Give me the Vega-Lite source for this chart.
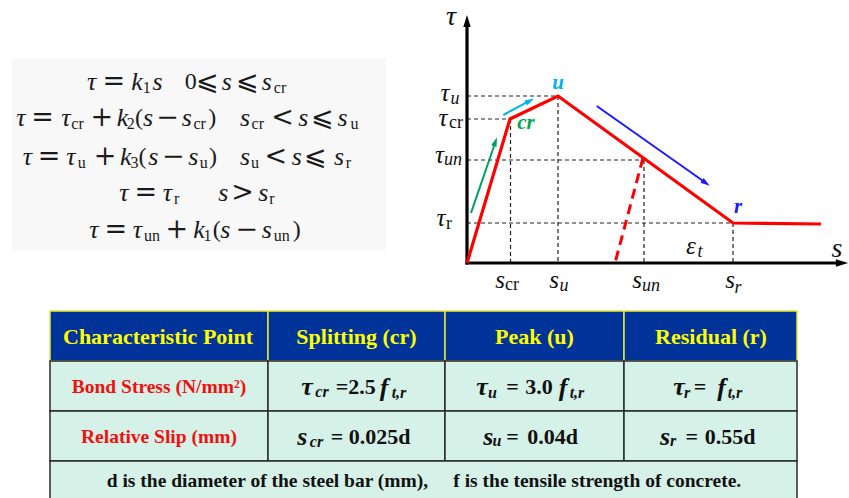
{
  "$schema": "https://vega.github.io/schema/vega-lite/v6.json",
  "width": 849,
  "height": 498,
  "autosize": {"type": "fit", "contains": "padding"},
  "padding": 0,
  "background": "white",
  "config": {"view": {"stroke": null}},
  "datasets": {
    "box": [{"x": 12, "y": 58, "x2": 386, "y2": 250}],
    "eqVar": [
      {"t": "τ", "x": 91.7, "y": 82}, {"t": "k", "x": 137, "y": 82}, {"t": "s", "x": 157.5, "y": 82}, {"t": "s", "x": 226.7, "y": 82}, {"t": "s", "x": 266.7, "y": 82},
      {"t": "τ", "x": 20.8, "y": 118}, {"t": "τ", "x": 65.8, "y": 118}, {"t": "k", "x": 122.5, "y": 118}, {"t": "s", "x": 148, "y": 118}, {"t": "s", "x": 186.7, "y": 118}, {"t": "s", "x": 245, "y": 118}, {"t": "s", "x": 303.3, "y": 118}, {"t": "s", "x": 342.5, "y": 118},
      {"t": "τ", "x": 27.5, "y": 157}, {"t": "τ", "x": 70.8, "y": 157}, {"t": "k", "x": 125.8, "y": 157}, {"t": "s", "x": 153.3, "y": 157}, {"t": "s", "x": 193.3, "y": 157}, {"t": "s", "x": 245, "y": 157}, {"t": "s", "x": 296.7, "y": 157}, {"t": "s", "x": 339, "y": 157},
      {"t": "τ", "x": 124, "y": 193}, {"t": "τ", "x": 167.5, "y": 193}, {"t": "s", "x": 223.3, "y": 193}, {"t": "s", "x": 263.3, "y": 193},
      {"t": "τ", "x": 94, "y": 230}, {"t": "τ", "x": 137.5, "y": 230}, {"t": "k", "x": 199, "y": 230}, {"t": "s", "x": 225.3, "y": 230}, {"t": "s", "x": 266.7, "y": 230}
    ],
    "eqNum": [
      {"t": "0", "x": 190.8, "y": 82},
      {"t": "(", "x": 139, "y": 118}, {"t": ")", "x": 212.2, "y": 118},
      {"t": "(", "x": 142.5, "y": 157}, {"t": ")", "x": 213, "y": 157},
      {"t": "(", "x": 216.7, "y": 230}, {"t": ")", "x": 296.7, "y": 230}
    ],
    "eqOp": [
      {"t": "=", "x": 113.7, "y": 82}, {"t": "⩽", "x": 207.5, "y": 82}, {"t": "⩽", "x": 247.5, "y": 82},
      {"t": "=", "x": 42.5, "y": 118}, {"t": "+", "x": 101.7, "y": 118}, {"t": "−", "x": 167.5, "y": 118}, {"t": "<", "x": 282.5, "y": 118}, {"t": "⩽", "x": 322.5, "y": 118},
      {"t": "=", "x": 49, "y": 157}, {"t": "+", "x": 105, "y": 157}, {"t": "−", "x": 173.3, "y": 157}, {"t": "<", "x": 275.8, "y": 157}, {"t": "⩽", "x": 315.8, "y": 157},
      {"t": "=", "x": 145.8, "y": 193}, {"t": ">", "x": 242.5, "y": 193},
      {"t": "=", "x": 115.8, "y": 230}, {"t": "+", "x": 176.7, "y": 230}, {"t": "−", "x": 246.7, "y": 230}
    ],
    "eqSub": [
      {"t": "1", "x": 146.7, "y": 88}, {"t": "cr", "x": 280, "y": 88},
      {"t": "cr", "x": 77.5, "y": 124}, {"t": "2", "x": 130.8, "y": 124}, {"t": "cr", "x": 199.7, "y": 124}, {"t": "cr", "x": 257.8, "y": 124}, {"t": "u", "x": 354.5, "y": 124},
      {"t": "u", "x": 81.7, "y": 163}, {"t": "3", "x": 134.5, "y": 163}, {"t": "u", "x": 203.8, "y": 163}, {"t": "u", "x": 255, "y": 163}, {"t": "r", "x": 348.5, "y": 163},
      {"t": "r", "x": 176.7, "y": 199}, {"t": "r", "x": 272, "y": 199},
      {"t": "un", "x": 152, "y": 236}, {"t": "1", "x": 207.5, "y": 236}, {"t": "un", "x": 281.7, "y": 236}
    ],
    "blockArrow": [
      {"x": 386, "y": 152, "y2": 168, "o": 1},
      {"x": 407, "y": 152, "y2": 168, "o": 2},
      {"x": 407, "y": 146, "y2": 175, "o": 3},
      {"x": 424, "y": 160.5, "y2": 160.5, "o": 4}
    ],
    "axes": [
      {"x": 467, "y": 264.5, "x2": 467, "y2": 24},
      {"x": 465.5, "y": 263, "x2": 840, "y2": 263}
    ],
    "axisHeads": [
      {"x": 467, "y": 21, "heading": 0},
      {"x": 842, "y": 263, "heading": 90}
    ],
    "guides": [
      {"x": 467, "y": 96, "x2": 558, "y2": 96},
      {"x": 558, "y": 96, "x2": 558, "y2": 263},
      {"x": 467, "y": 119, "x2": 510, "y2": 119},
      {"x": 510.5, "y": 119, "x2": 510.5, "y2": 263},
      {"x": 467, "y": 160, "x2": 644, "y2": 160},
      {"x": 644, "y": 160, "x2": 644, "y2": 263},
      {"x": 467, "y": 223, "x2": 733, "y2": 223},
      {"x": 733, "y": 223, "x2": 733, "y2": 263}
    ],
    "curve": [
      {"x": 467, "y": 263}, {"x": 510, "y": 119}, {"x": 558, "y": 96}, {"x": 733, "y": 223}, {"x": 821, "y": 224}
    ],
    "unload": [{"x": 643, "y": 158, "x2": 615, "y2": 263}],
    "arrows": [
      {"id": "green", "x": 471, "y": 213, "x2": 495.5, "y2": 141.7},
      {"id": "cyan", "x": 503.3, "y": 115, "x2": 530, "y2": 100.7},
      {"id": "blue", "x": 596.7, "y": 106, "x2": 706, "y2": 183}
    ],
    "arrowHeads": [
      {"id": "green", "x": 495.4, "y": 141.7, "heading": 18.9},
      {"id": "cyan", "x": 529.9, "y": 100.7, "heading": 61.7},
      {"id": "blue", "x": 705.9, "y": 183.1, "heading": 125.2}
    ],
    "pointTags": [
      {"t": "u", "x": 558, "y": 83},
      {"t": "cr", "x": 526, "y": 123},
      {"t": "r", "x": 738, "y": 207}
    ],
    "axisNames": [
      {"t": "τ", "x": 451, "y": 17}, {"t": "s", "x": 837, "y": 249}
    ],
    "plotMain": [
      {"t": "τ", "x": 445, "y": 93}, {"t": "τ", "x": 443, "y": 118}, {"t": "τ", "x": 439.5, "y": 155}, {"t": "τ", "x": 441, "y": 218},
      {"t": "s", "x": 500, "y": 280}, {"t": "s", "x": 554, "y": 280}, {"t": "s", "x": 637, "y": 280}, {"t": "s", "x": 730, "y": 280},
      {"t": "ε", "x": 691, "y": 246}
    ],
    "plotSubItalic": [
      {"t": "u", "x": 455, "y": 99}, {"t": "un", "x": 453, "y": 160},
      {"t": "u", "x": 564, "y": 286}, {"t": "un", "x": 651, "y": 286}, {"t": "r", "x": 738, "y": 288},
      {"t": "t", "x": 700, "y": 252}
    ],
    "plotSubUpright": [
      {"t": "cr", "x": 456, "y": 123}, {"t": "r", "x": 449, "y": 224}, {"t": "cr", "x": 512, "y": 285}
    ],
    "headCells": [
      {"x": 50, "x2": 268, "y": 311, "y2": 361},
      {"x": 268, "x2": 445, "y": 311, "y2": 361},
      {"x": 445, "x2": 624, "y": 311, "y2": 361},
      {"x": 624, "x2": 797, "y": 311, "y2": 361}
    ],
    "bodyCells": [
      {"x": 50, "x2": 268, "y": 361, "y2": 411},
      {"x": 268, "x2": 445, "y": 361, "y2": 411},
      {"x": 445, "x2": 624, "y": 361, "y2": 411},
      {"x": 624, "x2": 797, "y": 361, "y2": 411},
      {"x": 50, "x2": 268, "y": 411, "y2": 461},
      {"x": 268, "x2": 445, "y": 411, "y2": 461},
      {"x": 445, "x2": 624, "y": 411, "y2": 461},
      {"x": 624, "x2": 797, "y": 411, "y2": 461},
      {"x": 50, "x2": 797, "y": 461, "y2": 505}
    ],
    "headText": [
      {"t": "Characteristic Point", "x": 158, "y": 337},
      {"t": "Splitting (cr)", "x": 356.5, "y": 337},
      {"t": "Peak (u)", "x": 534.5, "y": 337},
      {"t": "Residual (r)", "x": 711, "y": 337}
    ],
    "rowText": [
      {"t": "Bond Stress (N/mm²)", "x": 159, "y": 387},
      {"t": "Relative Slip (mm)", "x": 159, "y": 437}
    ],
    "cellVar": [
      {"t": "τ", "x": 307, "y": 387}, {"t": "f", "x": 384, "y": 388},
      {"t": "τ", "x": 482, "y": 387}, {"t": "f", "x": 563, "y": 388},
      {"t": "τ", "x": 679, "y": 387}, {"t": "f", "x": 721.7, "y": 388},
      {"t": "s", "x": 302.3, "y": 437}, {"t": "s", "x": 488.3, "y": 437}, {"t": "s", "x": 665, "y": 437}
    ],
    "cellSub": [
      {"t": "cr", "x": 322, "y": 392}, {"t": "t,r", "x": 399, "y": 393},
      {"t": "u", "x": 492.5, "y": 392.5}, {"t": "t,r", "x": 577, "y": 393},
      {"t": "r", "x": 687, "y": 392.5}, {"t": "t,r", "x": 735, "y": 393},
      {"t": "cr", "x": 316.5, "y": 442}, {"t": "u", "x": 497, "y": 441}, {"t": "r", "x": 673, "y": 441}
    ],
    "cellNum": [
      {"t": "=", "x": 342, "y": 387}, {"t": "2.5", "x": 362, "y": 387},
      {"t": "=", "x": 512.5, "y": 387}, {"t": "3.0", "x": 539, "y": 387},
      {"t": "=", "x": 700, "y": 387},
      {"t": "=", "x": 337, "y": 437}, {"t": "0.025d", "x": 379.7, "y": 437},
      {"t": "=", "x": 512.5, "y": 437}, {"t": "0.04d", "x": 552.5, "y": 437},
      {"t": "=", "x": 691.7, "y": 437}, {"t": "0.55d", "x": 730, "y": 437}
    ],
    "footText": [
      {"t": "d is the diameter of the steel bar (mm),", "x": 106.7, "y": 481},
      {"t": "f is the tensile strength of concrete.", "x": 453.3, "y": 481}
    ]
  },
  "encoding": {
    "x": {"field": "x", "type": "quantitative", "scale": {"domain": [0, 849], "nice": false, "zero": false}, "axis": null},
    "y": {"field": "y", "type": "quantitative", "scale": {"domain": [0, 498], "nice": false, "zero": false, "reverse": true}, "axis": null}
  },
  "layer": [
    {"data": {"name": "box"}, "mark": {"type": "rect", "fill": "#f8f8f8"}, "encoding": {"x2": {"field": "x2"}, "y2": {"field": "y2"}}},
    {"data": {"name": "eqVar"}, "mark": {"type": "text", "font": "Liberation Serif", "fontStyle": "italic", "fontSize": 26, "color": "#1a1a1a", "baseline": "middle", "align": "center"}, "encoding": {"text": {"field": "t"}}},
    {"data": {"name": "eqNum"}, "mark": {"type": "text", "font": "Liberation Serif", "fontSize": 24, "color": "#1a1a1a", "baseline": "middle", "align": "center"}, "encoding": {"text": {"field": "t"}}},
    {"data": {"name": "eqOp"}, "mark": {"type": "text", "font": "DejaVu Serif", "fontSize": 27, "color": "#1a1a1a", "baseline": "middle", "align": "center"}, "encoding": {"text": {"field": "t"}}},
    {"data": {"name": "eqSub"}, "mark": {"type": "text", "font": "Liberation Serif", "fontSize": 16, "color": "#1a1a1a", "baseline": "middle", "align": "center"}, "encoding": {"text": {"field": "t"}}},
    {"data": {"name": "blockArrow"}, "mark": {"type": "area", "color": "#ff0000", "opacity": 1}, "encoding": {"y2": {"field": "y2"}, "order": {"field": "o", "type": "quantitative"}}},
    {"data": {"name": "guides"}, "mark": {"type": "rule", "color": "#222222", "strokeWidth": 1.2, "strokeDash": [4, 3]}, "encoding": {"x2": {"field": "x2"}, "y2": {"field": "y2"}}},
    {"data": {"name": "axes"}, "mark": {"type": "rule", "color": "#000000", "strokeWidth": 3.2}, "encoding": {"x2": {"field": "x2"}, "y2": {"field": "y2"}}},
    {"data": {"name": "axisHeads"}, "mark": {"type": "point", "shape": "M0,-1L0.6,1L-0.6,1Z", "filled": true, "size": 150, "color": "#000000", "opacity": 1}, "encoding": {"angle": {"field": "heading", "type": "quantitative", "scale": null}}},
    {"data": {"name": "unload"}, "mark": {"type": "rule", "color": "#ff0000", "strokeWidth": 3, "strokeDash": [10, 6]}, "encoding": {"x2": {"field": "x2"}, "y2": {"field": "y2"}}},
    {"data": {"name": "curve"}, "mark": {"type": "line", "color": "#ff0000", "strokeWidth": 3.2, "strokeJoin": "miter"}, "encoding": {}},
    {"data": {"name": "arrows"}, "mark": {"type": "rule", "strokeWidth": 2}, "encoding": {"x2": {"field": "x2"}, "y2": {"field": "y2"}, "color": {"field": "id", "type": "nominal", "scale": {"domain": ["green", "cyan", "blue"], "range": ["#00a060", "#00b0f0", "#1a1aff"]}, "legend": null}}},
    {"data": {"name": "arrowHeads"}, "mark": {"type": "point", "shape": "M0,-1L0.6,1L-0.6,1Z", "filled": true, "size": 90, "opacity": 1}, "encoding": {"angle": {"field": "heading", "type": "quantitative", "scale": null}, "color": {"field": "id", "type": "nominal", "scale": {"domain": ["green", "cyan", "blue"], "range": ["#00a060", "#00b0f0", "#1a1aff"]}, "legend": null}}},
    {"data": {"name": "pointTags"}, "mark": {"type": "text", "font": "Liberation Serif", "fontStyle": "italic", "fontWeight": "bold", "fontSize": 21, "baseline": "middle", "align": "center"}, "encoding": {"text": {"field": "t"}, "color": {"field": "t", "type": "nominal", "scale": {"domain": ["cr", "u", "r"], "range": ["#00a651", "#00b0f0", "#1a1aff"]}, "legend": null}}},
    {"data": {"name": "axisNames"}, "mark": {"type": "text", "font": "Liberation Serif", "fontStyle": "italic", "fontSize": 28, "color": "#111111", "baseline": "middle", "align": "center"}, "encoding": {"text": {"field": "t"}}},
    {"data": {"name": "plotMain"}, "mark": {"type": "text", "font": "Liberation Serif", "fontStyle": "italic", "fontSize": 25, "color": "#111111", "baseline": "middle", "align": "center"}, "encoding": {"text": {"field": "t"}}},
    {"data": {"name": "plotSubItalic"}, "mark": {"type": "text", "font": "Liberation Serif", "fontStyle": "italic", "fontSize": 18, "color": "#111111", "baseline": "middle", "align": "center"}, "encoding": {"text": {"field": "t"}}},
    {"data": {"name": "plotSubUpright"}, "mark": {"type": "text", "font": "Liberation Serif", "fontSize": 18, "color": "#111111", "baseline": "middle", "align": "center"}, "encoding": {"text": {"field": "t"}}},
    {"data": {"name": "headCells"}, "mark": {"type": "rect", "fill": "#003399", "stroke": "#e8e830", "strokeWidth": 1.5}, "encoding": {"x2": {"field": "x2"}, "y2": {"field": "y2"}}},
    {"data": {"name": "bodyCells"}, "mark": {"type": "rect", "fill": "#d6f1e7", "stroke": "#2a2a2a", "strokeWidth": 1.5, "clip": true}, "encoding": {"x2": {"field": "x2"}, "y2": {"field": "y2"}}},
    {"data": {"name": "headText"}, "mark": {"type": "text", "font": "Liberation Serif", "fontWeight": "bold", "fontSize": 22, "color": "#ffff00", "baseline": "middle", "align": "center"}, "encoding": {"text": {"field": "t"}}},
    {"data": {"name": "rowText"}, "mark": {"type": "text", "font": "Liberation Serif", "fontWeight": "bold", "fontSize": 19.5, "color": "#f01010", "baseline": "middle", "align": "center"}, "encoding": {"text": {"field": "t"}}},
    {"data": {"name": "cellVar"}, "mark": {"type": "text", "font": "Liberation Serif", "fontStyle": "italic", "fontWeight": "bold", "fontSize": 26, "color": "#111111", "baseline": "middle", "align": "center"}, "encoding": {"text": {"field": "t"}}},
    {"data": {"name": "cellSub"}, "mark": {"type": "text", "font": "Liberation Serif", "fontStyle": "italic", "fontWeight": "bold", "fontSize": 16, "color": "#111111", "baseline": "middle", "align": "center"}, "encoding": {"text": {"field": "t"}}},
    {"data": {"name": "cellNum"}, "mark": {"type": "text", "font": "Liberation Serif", "fontWeight": "bold", "fontSize": 22, "color": "#111111", "baseline": "middle", "align": "center"}, "encoding": {"text": {"field": "t"}}},
    {"data": {"name": "footText"}, "mark": {"type": "text", "font": "Liberation Serif", "fontWeight": "bold", "fontSize": 19.5, "color": "#111111", "baseline": "middle", "align": "left"}, "encoding": {"text": {"field": "t"}}}
  ],
  "resolve": {"scale": {"color": "independent"}}
}
